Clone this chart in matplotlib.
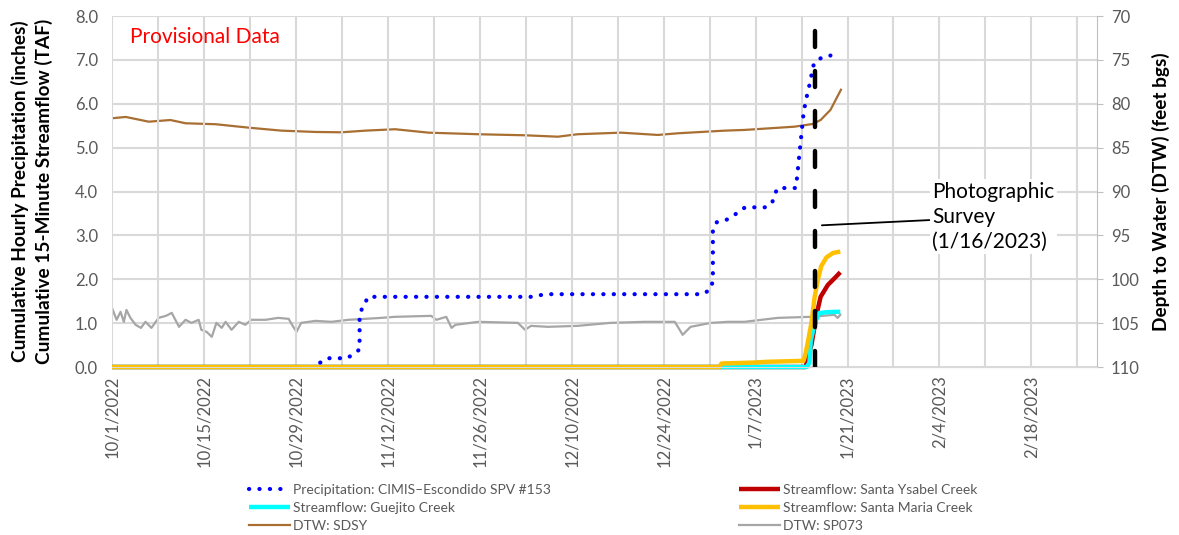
import numpy as np
import pandas as pd
import matplotlib
matplotlib.use('Agg')
import matplotlib.pyplot as plt

plt.rcParams['font.family'] = ['Lato', 'DejaVu Sans']

start = pd.Timestamp('2022-10-01')
end = pd.Timestamp('2023-02-28')
survey = pd.Timestamp('2023-01-16')

# all x values are days since 10/1/2022
precip_day = [31.7, 32.8, 35.8, 36.8, 37.7, 37.7, 38.1, 38.6, 39.0, 63.8, 65.3, 66.7,
              90.0, 91.2, 91.5, 91.5, 92.1, 93.5, 94.5, 95.4, 96.4, 99.4, 100.5, 100.9,
              101.4, 104.1, 104.3, 105.3, 105.3, 105.9, 106.4, 106.7, 107.2, 108.2, 109.4]
precip_in = [0.10, 0.20, 0.20, 0.30, 0.40, 1.10, 1.37, 1.48, 1.60, 1.60, 1.64, 1.66,
             1.66, 1.78, 1.98, 3.15, 3.30, 3.35, 3.44, 3.53, 3.64, 3.64, 3.73, 3.94,
             4.08, 4.08, 4.30, 5.78, 5.80, 6.24, 6.55, 6.84, 6.98, 7.06, 7.10]

ysabel_day = [0, 105.6, 106.5, 107.3, 107.9, 109.0, 110.2, 110.9]
ysabel_taf = [0, 0, 0.5, 1.2, 1.6, 1.87, 2.05, 2.16]

guejito_day = [0, 105.8, 106.2, 106.4, 107.0, 107.7, 108.9, 110.9]
guejito_taf = [0, 0, 0.1, 0.6, 1.0, 1.23, 1.25, 1.26]

maria_day = [0, 92.5, 92.8, 97.5, 100.0, 105.3, 105.6, 106.0, 106.5, 107.0, 107.5,
             108.0, 108.8, 109.8, 110.9]
maria_taf = [0, 0, 0.08, 0.10, 0.12, 0.14, 0.30, 0.60, 1.00, 1.60, 2.00, 2.30, 2.50,
             2.60, 2.63]

sdsy_day = [0, 2.1, 5.6, 8.9, 11.2, 15.8, 20.8, 25.8, 31.0, 34.9, 38.6, 43.1, 48.2,
            55.8, 62.9, 67.9, 70.9, 77.5, 83.1, 86.2, 93.3, 96.3, 103.9, 106.7, 107.9,
            109.4, 111.0]
sdsy_dtw = [81.65, 81.50, 82.04, 81.85, 82.22, 82.33, 82.72, 83.06, 83.21, 83.25, 83.06,
            82.90, 83.29, 83.47, 83.59, 83.75, 83.47, 83.29, 83.55, 83.36, 83.06, 82.98,
            82.61, 82.30, 81.85, 80.70, 78.40]

sp073_day = [0.0, 0.7, 1.3, 1.8, 2.2, 2.8, 3.6, 4.4, 5.1, 6.0, 7.1, 8.2, 9.1, 10.2, 11.2,
             12.1, 13.2, 13.6, 14.4, 15.2, 15.9, 16.7, 17.3, 18.2, 19.3, 20.3, 21.2, 23.4,
             25.3, 26.9, 27.6, 28.1, 28.8, 31.0, 33.4, 36.0, 38.6, 41.0, 43.1, 48.6, 49.4,
             50.9, 51.7, 52.3, 55.8, 61.8, 62.9, 63.8, 66.4, 70.9, 75.9, 81.1, 85.7, 86.9,
             88.1, 91.2, 93.8, 96.3, 101.4, 106.4, 110.0, 110.5, 110.9]
sp073_dtw = [103.26, 104.62, 103.71, 104.85, 103.49, 104.40, 105.19, 105.54, 104.85,
             105.54, 104.40, 104.17, 103.83, 105.42, 104.62, 104.97, 104.62, 105.76,
             105.99, 106.56, 104.97, 105.54, 104.85, 105.76, 104.85, 105.19, 104.62,
             104.62, 104.40, 104.51, 105.42, 105.99, 104.97, 104.74, 104.85, 104.62,
             104.51, 104.40, 104.28, 104.17, 104.62, 104.28, 105.54, 105.19, 104.85,
             104.97, 105.76, 105.31, 105.42, 105.31, 104.97, 104.85, 104.85, 106.33,
             105.42, 104.97, 104.85, 104.85, 104.40, 104.28, 104.05, 104.40, 104.05]


def to_dates(days):
    return start + pd.to_timedelta(np.array(days), unit='D')


grey = '#595959'
gridc = '#D9D9D9'

fig = plt.figure(figsize=(11.79, 5.35), dpi=100)
ax = fig.add_axes([0.095, 0.314, 0.8355, 0.656])
ax2 = ax.twinx()
ax.set_zorder(ax2.get_zorder() + 1)
ax.patch.set_visible(False)

# depth to water on right axis (drawn underneath)
l_sdsy, = ax2.plot(to_dates(sdsy_day), sdsy_dtw, color='#A86E32', lw=1.6, label='DTW: SDSY')
l_sp, = ax2.plot(to_dates(sp073_day), sp073_dtw, color='#A6A6A6', lw=1.6, label='DTW: SP073')

# streamflow + precip on left axis
flow_kw = dict(lw=3.2, clip_on=False, solid_capstyle='butt')
l_ysa, = ax.plot(to_dates(ysabel_day), ysabel_taf, color='#C00000',
                 label='Streamflow: Santa Ysabel Creek', **flow_kw)
l_gue, = ax.plot(to_dates(guejito_day), guejito_taf, color='#00FFFF',
                 label='Streamflow: Guejito Creek', **flow_kw)
l_mar, = ax.plot(to_dates(maria_day), maria_taf, color='#FFC000',
                 label='Streamflow: Santa Maria Creek', **flow_kw)
l_pre, = ax.plot(to_dates(precip_day), precip_in, color='#0000FF', lw=3.0,
                 dashes=(0.05, 2.45), dash_capstyle='round',
                 label='Precipitation: CIMIS\u2013Escondido SPV #153')

# survey date
ax.plot([survey, survey], [0, 7.75], color='black', lw=3.2,
        dashes=(3.6, 5.4), dash_capstyle='round')
ax.annotate('Photographic\nSurvey\n(1/16/2023)',
            xy=(start + pd.Timedelta(days=108.1), 3.23),
            xytext=(start + pd.Timedelta(days=124.9), 3.42),
            ha='left', va='center', fontsize=15, linespacing=1.3,
            bbox=dict(fc='white', ec='none', pad=2),
            arrowprops=dict(arrowstyle='-', color='black', lw=1.3, shrinkA=0, shrinkB=0))

ax.text(0.018, 0.94, 'Provisional Data', transform=ax.transAxes, color='#FF0000',
        fontsize=15, va='center', ha='left')

# axes
ax.set_xlim(start, end)
ax.set_ylim(0, 8)
ax2.set_ylim(110, 70)
ax.set_yticks(np.arange(0, 8.1, 1))
ax.set_yticklabels([f'{v:.1f}' for v in np.arange(0, 8.1, 1)])
ax2.set_yticks(np.arange(70, 111, 5))

major = pd.date_range(start, end, freq='14D')
minor = pd.date_range(start, end, freq='7D')
ax.set_xticks(major)
ax.set_xticklabels([f'{d.month}/{d.day}/{d.year}' for d in major], rotation=90)
ax.set_xticks(minor, minor=True)

ax.grid(True, which='both', axis='x', color=gridc, lw=1.5)
ax.set_axisbelow(True)
ax2.grid(True, which='major', axis='y', color=gridc, lw=1.5)
ax2.set_axisbelow(True)

ax.tick_params(axis='x', which='both', length=0, labelsize=12, labelcolor=grey, pad=6)
ax.tick_params(axis='y', length=0, labelsize=12, labelcolor=grey, pad=10)
ax2.tick_params(axis='y', length=4, color='#BFBFBF', labelsize=12, labelcolor=grey, pad=6)

for a in (ax, ax2):
    a.spines['top'].set_visible(False)
    a.spines['left'].set_visible(False)
    a.spines['bottom'].set_color(gridc)
    a.spines['right'].set_visible(False)
ax2.spines['right'].set_visible(True)
ax2.spines['right'].set_color('#BFBFBF')

ax.set_ylabel('Cumulative Hourly Precipitation (inches)\nCumulative 15-Minute Streamflow (TAF)',
              fontsize=13.7, fontweight='bold', labelpad=16, linespacing=1.35)
ax2.set_ylabel('Depth to Water (DTW) (feet bgs)', fontsize=13.7, fontweight='bold', labelpad=9)

leg_kw = dict(frameon=False, fontsize=10, labelcolor=grey, handlelength=3.0,
              handletextpad=0.2, labelspacing=0.45, borderaxespad=0)
fig.legend([l_pre, l_gue, l_sdsy], [h.get_label() for h in (l_pre, l_gue, l_sdsy)],
           loc='upper left', bbox_to_anchor=(243 / 1179, 1 - 478 / 535), **leg_kw)
fig.legend([l_ysa, l_mar, l_sp], [h.get_label() for h in (l_ysa, l_mar, l_sp)],
           loc='upper left', bbox_to_anchor=(733 / 1179, 1 - 478 / 535), **leg_kw)

fig.savefig('out.png', dpi=100)
